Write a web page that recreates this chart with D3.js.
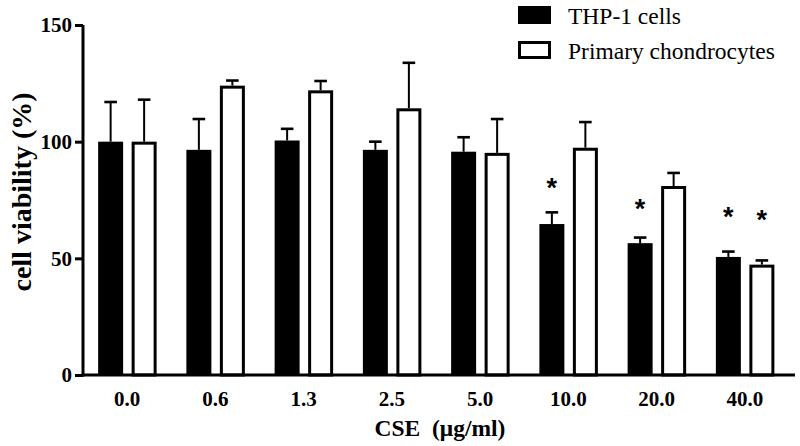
<!DOCTYPE html>
<html>
<head>
<meta charset="utf-8">
<script src="https://cdn.jsdelivr.net/npm/d3@7"></script>
<style>
  html, body { margin: 0; padding: 0; background: #fff; }
  svg { display: block; }
</style>
</head>
<body>
<svg id="chart" width="800" height="446"></svg>
<script>
// ---- data ----
const categories = ["0.0", "0.6", "1.3", "2.5", "5.0", "10.0", "20.0", "40.0"];
const seriesNames = ["THP-1 cells", "Primary chondrocytes"];
const thpMeans  = [100, 96.5, 100.5, 96.5, 95.7, 64.7, 56.5, 50.6];
const thpErr    = [17, 13.2, 5, 3.5, 6.2, 5, 2.4, 2.3];
const chondMeans = [100, 124, 122, 114.3, 95.2, 97.4, 81, 47.3];
const chondErr   = [18, 2.2, 4, 19.5, 14.5, 11, 5.6, 1.8];
const yTicks = [0, 50, 100, 150];
// significance marks: [category, series index, level (value units)]
const starCats   = ["10.0", "20.0", "40.0", "40.0"];
const starSeries = [0, 0, 0, 1];
const starLevels = [83, 73.8, 70.4, 69.4];

// ---- scales ----
const svg = d3.select("#chart");
const y = d3.scaleLinear().domain([0, 150]).range([375, 25]);
const x0 = d3.scaleBand().domain(categories).range([83, 789]).paddingInner(0).paddingOuter(0);
const x1 = d3.scaleBand().domain([0, 1]).range([-29, 29.5]).paddingInner(0.254);
const cx = (cat) => x0(cat) + x0.bandwidth() / 2;

const data = [];
categories.forEach((c, i) => {
  data.push({cat: c, s: 0, v: thpMeans[i], e: thpErr[i]});
  data.push({cat: c, s: 1, v: chondMeans[i], e: chondErr[i]});
});

const serif = "'Liberation Serif', 'Times New Roman', serif";

// ---- error bars (drawn first so bars overlap stems) ----
const eg = svg.append("g");
data.forEach(d => {
  const xc = cx(d.cat) + x1(d.s) + x1.bandwidth() / 2;
  eg.append("line")
    .attr("x1", xc).attr("x2", xc)
    .attr("y1", y(d.v)).attr("y2", y(d.v + d.e))
    .attr("stroke", "#000").attr("stroke-width", 2);
  eg.append("line")
    .attr("x1", xc - 6.3).attr("x2", xc + 6.3)
    .attr("y1", y(d.v + d.e)).attr("y2", y(d.v + d.e))
    .attr("stroke", "#000").attr("stroke-width", 2.6);
});

// ---- bars ----
const bg = svg.append("g");
data.forEach(d => {
  const xl = cx(d.cat) + x1(d.s);
  const w = x1.bandwidth();
  if (d.s === 0) {
    bg.append("rect")
      .attr("x", xl).attr("y", y(d.v))
      .attr("width", w).attr("height", y(0) - y(d.v))
      .attr("fill", "#000");
  } else {
    bg.append("rect")
      .attr("x", xl + 1.5).attr("y", y(d.v) + 1.5)
      .attr("width", w - 3).attr("height", y(0) - y(d.v) - 1.5)
      .attr("fill", "#fff").attr("stroke", "#000").attr("stroke-width", 3);
  }
});

// ---- stars ----
const starSize = 27;
starCats.forEach((c, i) => {
  const xc = cx(c) + x1(starSeries[i]) + x1.bandwidth() / 2;
  svg.append("text")
    .attr("x", xc)
    .attr("y", y(starLevels[i]) + 0.58 * starSize)
    .attr("text-anchor", "middle")
    .attr("font-family", "'Liberation Sans', Arial, sans-serif")
    .attr("font-weight", "bold")
    .attr("font-size", starSize)
    .text("*");
});

// ---- y axis ----
const yAxis = d3.axisLeft(y).tickValues(yTicks).tickSize(8).tickPadding(3).tickFormat(d3.format("d"));
const yg = svg.append("g").attr("transform", "translate(83,0)").call(yAxis);
yg.select(".domain").attr("stroke-width", 3).attr("d", `M0,${y(150)}V${y(0) + 1.5}`);
yg.selectAll(".tick line").attr("stroke-width", 3);
yg.selectAll(".tick text")
  .attr("font-family", serif).attr("font-weight", "bold").attr("font-size", 21)
  .attr("fill", "#000");

// ---- x axis ----
const xAxis = d3.axisBottom(x0).tickSize(0).tickPadding(16);
const xg = svg.append("g").attr("transform", "translate(0,375)").call(xAxis);
xg.select(".domain").attr("stroke-width", 3).attr("d", "M81.5,0H795");
xg.selectAll(".tick text")
  .attr("font-family", serif).attr("font-weight", "bold").attr("font-size", 21)
  .attr("fill", "#000");

// ---- axis titles ----
svg.append("text")
  .attr("transform", "translate(31,192) rotate(-90)")
  .attr("text-anchor", "middle")
  .attr("font-family", serif).attr("font-weight", "bold").attr("font-size", 28)
  .text("cell viability (%)");

svg.append("text")
  .attr("x", 440).attr("y", 436)
  .attr("text-anchor", "middle")
  .attr("font-family", serif).attr("font-weight", "bold").attr("font-size", 23.5)
  .attr("xml:space", "preserve")
  .style("white-space", "pre")
  .text("CSE  (\u03bcg/ml)");

// ---- legend ----
const lg = svg.append("g");
seriesNames.forEach((name, i) => {
  const ly = 6 + i * 35;
  if (i === 0) {
    lg.append("rect").attr("x", 518).attr("y", ly).attr("width", 33).attr("height", 18).attr("fill", "#000");
  } else {
    lg.append("rect").attr("x", 519.5).attr("y", ly + 1.5).attr("width", 30).attr("height", 15)
      .attr("fill", "#fff").attr("stroke", "#000").attr("stroke-width", 3);
  }
  lg.append("text")
    .attr("x", 568).attr("y", ly + 18)
    .attr("font-family", serif).attr("font-size", 23.5)
    .text(name);
});
</script>
</body>
</html>
